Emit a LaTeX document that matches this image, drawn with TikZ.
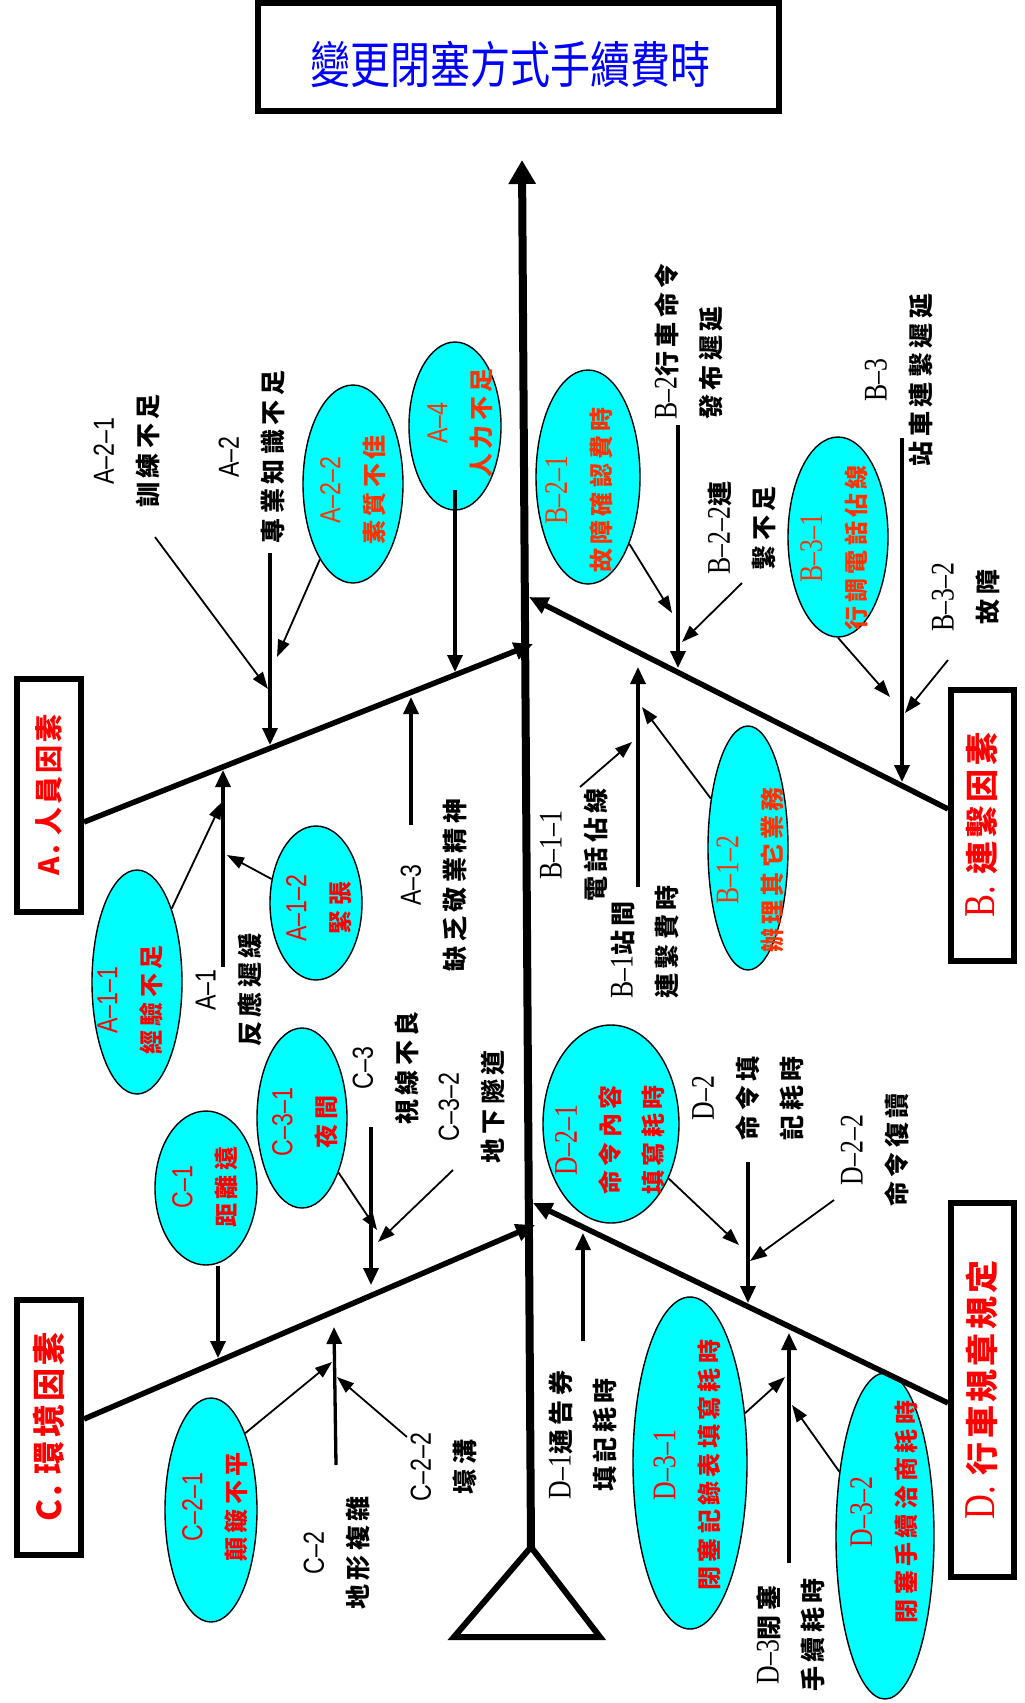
\documentclass[tikz,border=0pt]{standalone}
\usepackage{fontspec}
\usetikzlibrary{arrows.meta,shapes.geometric}
\newfontfamily\cjk{Noto Sans CJK TC}
\newfontfamily\cjklbl[LetterSpace=18]{Noto Sans CJK TC}
\newfontfamily\cjkbox[LetterSpace=10]{Noto Sans CJK TC}
\newfontfamily\latsans[FakeStretch=0.8]{Liberation Sans}
\newfontfamily\latserif[FakeStretch=0.78]{Liberation Serif}
\newcommand\ls[1]{{\latsans\mdseries\fontsize{29}{44}\selectfont #1}}
\newcommand\lr[1]{{\latserif\mdseries\fontsize{33}{44}\selectfont #1}}
\definecolor{ored}{HTML}{FF3300}
\definecolor{fred}{HTML}{FF0000}
\definecolor{cyanfill}{HTML}{00FFFF}
\definecolor{tblue}{HTML}{0000FF}
\begin{document}
\begin{tikzpicture}[x=1pt,y=-1pt,
  lbl/.style={rotate=90, align=center, inner sep=0pt, font=\fontsize{25}{44}\selectfont\cjklbl\bfseries},
  etx/.style={rotate=90, align=center, inner sep=0pt, text=fred, font=\fontsize{24}{43}\selectfont\cjklbl\bfseries},
  ell/.style={ellipse, draw=black, line width=1.4pt, fill=cyanfill, inner sep=0pt},
  fbox/.style={rotate=90, draw=black, line width=6pt, fill=white, inner sep=0pt, text=fred},
  bone/.style={line width=5.5pt, -{Triangle[length=19pt,width=17pt]}},
  sub/.style={line width=3.3pt, -{Triangle[length=17pt,width=15pt]}},
  twig/.style={line width=1.8pt, -{Triangle[length=17pt,width=12pt]}},
]
\fill[white] (0,0) rectangle (1025,1703);
\useasboundingbox (0,0) rectangle (1025,1703);

% title
\node[draw=black, line width=6pt, minimum width=521pt, minimum height=108pt, inner sep=0pt] (title) at (518.5,57) {};
\node[text=tblue, font=\fontsize{40}{48}\selectfont\cjk, yscale=1.25, inner sep=0pt] (ttl) at (510,64) {變更閉塞方式手續費時};

% category boxes
\node[fbox, minimum width=233pt, minimum height=64pt, font=\fontsize{28}{34}\selectfont\cjkbox\bfseries] (boxA) at (49,795) {A. 人員因素};
\node[fbox, minimum width=271pt, minimum height=63pt, font=\fontsize{33}{40}\selectfont\cjkbox\bfseries] (boxB) at (982,825) {{\latserif\mdseries\fontsize{44}{40}\selectfont B.} 連繫因素};
\node[fbox, minimum width=255pt, minimum height=64pt, font=\fontsize{33}{40}\selectfont\cjkbox\bfseries] (boxC) at (49,1427) {C. 環境因素};
\node[fbox, minimum width=374pt, minimum height=63pt, font=\fontsize{33}{40}\selectfont\cjkbox\bfseries] (boxD) at (982,1390) {{\latserif\mdseries\fontsize{44}{40}\selectfont D.} 行車規章規定};

% ellipses
\node[ell, minimum width=100pt, minimum height=198pt] (a22) at (353,484) {};
\node[ell, minimum width=92pt, minimum height=168pt] (a4) at (455,426) {};
\node[ell, minimum width=90pt, minimum height=224pt] (a11) at (137,982) {};
\node[ell, minimum width=92pt, minimum height=154pt] (a12) at (316,903) {};
\node[ell, minimum width=90pt, minimum height=180pt] (c31) at (302,1118) {};
\node[ell, minimum width=102pt, minimum height=154pt] (c1) at (206,1188) {};
\node[ell, minimum width=92pt, minimum height=224pt] (c21) at (211,1510) {};
\node[ell, minimum width=104pt, minimum height=214pt] (b21) at (588,477) {};
\node[ell, minimum width=100pt, minimum height=200pt] (b31) at (838,537) {};
\node[ell, minimum width=80pt, minimum height=244pt] (b12) at (748,848) {};
\node[ell, minimum width=136pt, minimum height=198pt] (d21) at (611,1124) {};
\node[ell, minimum width=114pt, minimum height=332pt] (d31) at (690,1463) {};
\node[ell, minimum width=98pt, minimum height=326pt] (d32) at (885,1536) {};

% ellipse texts
\node[etx, text=ored] (a22x) at (353,490) {\ls{A–2–2}\\素質不佳};
\node[etx, text=ored] (a4x) at (460,423) {\ls{A–4}\\人力不足};
\node[etx] (a11x) at (130,1000) {\ls{A–1–1}\\經驗不足};
\node[etx] (a12x) at (319,908) {\ls{A–1–2}\\緊張};
\node[etx] (c31x) at (305,1122) {\ls{C–3–1}\\夜間};
\node[etx] (c1x) at (205,1187) {\ls{C–1}\\距離遠};
\node[etx] (c21x) at (215,1507) {\ls{C–2–1}\\顛簸不平};
\node[etx, text=ored] (b21x) at (579,490) {\lr{B–2–1}\\故障確認費時};
\node[etx, text=ored] (b31x) at (834,548) {\lr{B–3–1}\\行調電話佔線};
\node[etx, text=ored] (b12x) at (750,870) {\lr{B–1–2}\\辦理其它業務};
\node[etx] (d21x) at (610,1140) {\lr{D–2–1}\\命令內容\\填寫耗時};
\node[etx] (d31x) at (687,1465) {\lr{D–3–1}\\閉塞記錄表填寫耗時};
\node[etx] (d32x) at (884,1512) {\lr{D–3–2}\\閉塞手續洽商耗時};

% labels
\node[lbl] (la21) at (127,451) {\ls{A–2–1}\\訓練不足};
\node[lbl] (la2) at (252,457) {\ls{A–2}\\專業知識不足};
\node[lbl] (la1) at (229,990) {\ls{A–1}\\反應遲緩};
\node[lbl] (la3) at (434,885) {\ls{A–3}\\缺乏敬業精神};
\node[lbl, anchor=west, align=left] (lb2) at (689,420) {\lr{B–2}行車命令\\發布遲延};
\node[lbl] (lb22) at (742,528) {\lr{B–2–2}連\\繫不足};
\node[lbl] (lb3) at (899,380) {\lr{B–3}\\站車連繫遲延};
\node[lbl] (lb32) at (966,597) {\lr{B–3–2}\\故障};
\node[lbl] (lb11) at (574,845) {\lr{B–1–1}\\電話佔線};
\node[lbl, anchor=west, align=left] (lb1) at (645,999) {\lr{B–1}站間\\連繫費時};
\node[lbl] (lc3) at (386,1068) {\ls{C–3}\\視線不良};
\node[lbl] (lc32) at (472,1107) {\ls{C–3–2}\\地下隧道};
\node[lbl] (lc2) at (337,1553) {\ls{C–2}\\地形複雜};
\node[lbl] (lc22) at (444,1467) {\ls{C–2–2}\\壕溝};
\node[lbl] (ld2) at (748,1098) {\lr{D–2}\\命令填\\記耗時};
\node[lbl] (ld22) at (875,1150) {\lr{D–2–2}\\命令復讀};
\node[lbl] (ld1) at (583,1435) {\lr{D–1}通告券\\填記耗時};
\node[lbl] (ld3) at (791,1635) {\lr{D–3}閉塞\\手續耗時};

% coordinates
\coordinate (spT) at (522,160);
\coordinate (spB) at (531,1547);
\coordinate (triL) at (454,1637);
\coordinate (triR) at (600,1637);
\coordinate (aS) at (84,822);   \coordinate (aE) at (533,644);
\coordinate (bS) at (948,809);  \coordinate (bE) at (529,597);
\coordinate (cS) at (84,1419);  \coordinate (cE) at (535,1225);
\coordinate (dS) at (948,1403); \coordinate (dE) at (533,1203);

\coordinate (a1s) at (223,967); \coordinate (a1t) at (223,770);
\coordinate (a2s) at (270,553); \coordinate (a2t) at (270,745);
\coordinate (a3s) at (411,825); \coordinate (a3t) at (411,697);
\coordinate (a4t) at (455,672);
\coordinate (a21s) at (155,537); \coordinate (a21t) at (268,689);
\coordinate (a22t) at (277,657);
\coordinate (a11t) at (222,802);
\coordinate (a12t) at (227,855);

\coordinate (b1s) at (638,887); \coordinate (b1t) at (638,667);
\coordinate (b2s) at (678,425); \coordinate (b2t) at (678,668);
\coordinate (b3s) at (902,438); \coordinate (b3t) at (902,782);
\coordinate (b11s) at (580,787); \coordinate (b11t) at (632,742);
\coordinate (b12t) at (642,707);
\coordinate (b21t) at (672,613);
\coordinate (b22s) at (742,583); \coordinate (b22t) at (682,642);
\coordinate (b31t) at (890,697);
\coordinate (b32s) at (948,660); \coordinate (b32t) at (905,713);

\coordinate (c1t) at (218,1358);
\coordinate (c2s) at (336,1465); \coordinate (c2t) at (334,1327);
\coordinate (c3s) at (371,1127); \coordinate (c3t) at (371,1285);
\coordinate (c31t) at (377,1230);
\coordinate (c32s) at (453,1170); \coordinate (c32t) at (378,1242);
\coordinate (c21t) at (332,1362);
\coordinate (c22s) at (407,1437); \coordinate (c22t) at (337,1377);

\coordinate (d1s) at (583,1341); \coordinate (d1t) at (583,1233);
\coordinate (d2s) at (748,1162); \coordinate (d2t) at (748,1303);
\coordinate (d3s) at (789,1563); \coordinate (d3t) at (789,1333);
\coordinate (d21t) at (739,1245);
\coordinate (d22s) at (834,1200); \coordinate (d22t) at (750,1261);
\coordinate (d31t) at (785,1377);
\coordinate (d32t) at (792,1405);

% spine and head triangle
\draw[line width=8pt, -{Triangle[length=24pt,width=26pt]}] (spB) -- (spT);
\draw[line width=6pt, line join=miter, fill=white] (spB) -- (triL) -- (triR) -- cycle;

% main bones
\draw[bone] (aS) -- (aE);
\draw[bone] (bS) -- (bE);
\draw[bone] (cS) -- (cE);
\draw[bone] (dS) -- (dE);

% A
\draw[sub] (a1s) -- (a1t);
\draw[sub] (a2s) -- (a2t);
\draw[sub] (a3s) -- (a3t);
\draw[sub] ([yshift=-64pt]a4.center) -- (a4t);
\draw[twig] (a21s) -- (a21t);
\draw[twig] (a22) -- (a22t);
\draw[twig] (a11) -- (a11t);
\draw[twig] (a12) -- (a12t);

% B
\draw[sub] (b1s) -- (b1t);
\draw[sub] (b2s) -- (b2t);
\draw[sub] (b3s) -- (b3t);
\draw[twig] (b11s) -- (b11t);
\draw[twig] (b12) -- (b12t);
\draw[twig] (b21) -- (b21t);
\draw[twig] (b22s) -- (b22t);
\draw[twig] (b31.south) -- (b31t);
\draw[twig] (b32s) -- (b32t);

% C
\draw[sub] (c1.south -| c1t) -- (c1t);
\draw[sub] (c2s) -- (c2t);
\draw[sub] (c3s) -- (c3t);
\draw[twig] (c31) -- (c31t);
\draw[twig] (c32s) -- (c32t);
\draw[twig] (c21.66) -- (c21t);
\draw[twig] (c22s) -- (c22t);

% D
\draw[sub] (d1s) -- (d1t);
\draw[sub] (d2s) -- (d2t);
\draw[sub] (d3s) -- (d3t);
\draw[twig] (d21) -- (d21t);
\draw[twig] (d22s) -- (d22t);
\draw[twig] (d31) -- (d31t);
\draw[twig] (d32) -- (d32t);
\end{tikzpicture}
\end{document}
